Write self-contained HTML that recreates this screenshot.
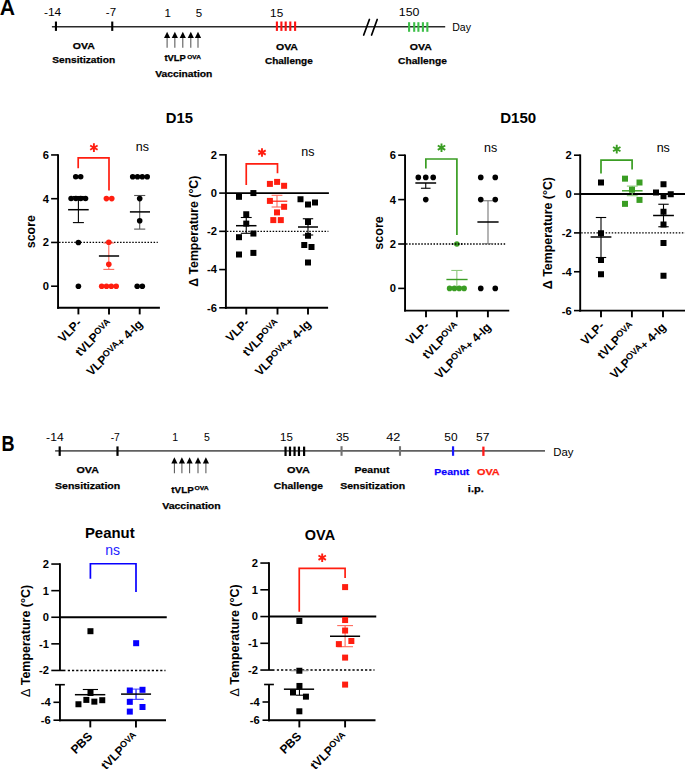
<!DOCTYPE html>
<html><head><meta charset="utf-8"><style>
html,body{margin:0;padding:0;background:#fff;width:685px;height:770px;overflow:hidden}
svg{display:block;font-family:"Liberation Sans", sans-serif}
</style></head><body>
<svg width="685" height="770" viewBox="0 0 685 770">
<rect width="685" height="770" fill="#fff"/>
<text id="big_a" x="-0.3" y="14.82" font-size="22.5" font-weight="bold" textLength="15.26" lengthAdjust="spacingAndGlyphs" fill="#000">A</text>
<line x1="51.9" y1="26.75" x2="445.2" y2="26.75" stroke="#2a2a2a" stroke-width="1.6" />
<line x1="55.95" y1="21.55" x2="55.95" y2="30.9" stroke="#000" stroke-width="2.1" />
<line x1="112.25" y1="21.55" x2="112.25" y2="30.9" stroke="#000" stroke-width="2.1" />
<text id="a_m14" x="43.91" y="16.25" font-size="11.5" textLength="17.32" lengthAdjust="spacingAndGlyphs" fill="#000">-14</text>
<text id="a_m7" x="105.8" y="16.43" font-size="11.5" textLength="10.27" lengthAdjust="spacingAndGlyphs" fill="#000">-7</text>
<text id="a_1" x="164.54" y="16.63" font-size="11.5" fill="#000">1</text>
<text id="a_5" x="195.83" y="16.98" font-size="11.5" fill="#000">5</text>
<text id="a_15" x="270.12" y="16.69" font-size="11.5" textLength="13.07" lengthAdjust="spacingAndGlyphs" fill="#000">15</text>
<text id="a_150" x="398.8" y="16.44" font-size="11.5" textLength="20.57" lengthAdjust="spacingAndGlyphs" fill="#000">150</text>
<text id="a_day" x="452.19" y="30.62" font-size="11.5" textLength="18.76" lengthAdjust="spacingAndGlyphs" fill="#000">Day</text>
<line x1="167.1" y1="37.5" x2="167.1" y2="47.8" stroke="#555" stroke-width="1.05"/>
<path d="M164.00 38.0 L167.1 31.8 L170.20 38.0 Z" fill="#000"/>
<line x1="174.85" y1="37.5" x2="174.85" y2="47.8" stroke="#555" stroke-width="1.05"/>
<path d="M171.75 38.0 L174.85 31.8 L177.95 38.0 Z" fill="#000"/>
<line x1="182.8" y1="37.5" x2="182.8" y2="47.8" stroke="#555" stroke-width="1.05"/>
<path d="M179.70 38.0 L182.8 31.8 L185.90 38.0 Z" fill="#000"/>
<line x1="190.8" y1="37.5" x2="190.8" y2="47.8" stroke="#555" stroke-width="1.05"/>
<path d="M187.70 38.0 L190.8 31.8 L193.90 38.0 Z" fill="#000"/>
<line x1="198.0" y1="37.5" x2="198.0" y2="47.8" stroke="#555" stroke-width="1.05"/>
<path d="M194.90 38.0 L198.0 31.8 L201.10 38.0 Z" fill="#000"/>
<line x1="276.9" y1="21.5" x2="276.9" y2="30.9" stroke="#ff1010" stroke-width="2.1" />
<line x1="281.4" y1="21.5" x2="281.4" y2="30.9" stroke="#ff1010" stroke-width="2.1" />
<line x1="285.7" y1="21.5" x2="285.7" y2="30.9" stroke="#ff1010" stroke-width="2.1" />
<line x1="290.3" y1="21.5" x2="290.3" y2="30.9" stroke="#ff1010" stroke-width="2.1" />
<line x1="295.1" y1="21.5" x2="295.1" y2="30.9" stroke="#ff1010" stroke-width="2.1" />
<line x1="409.1" y1="22.2" x2="409.1" y2="31.8" stroke="#3cbf48" stroke-width="2.1" />
<line x1="414.2" y1="22.2" x2="414.2" y2="31.8" stroke="#3cbf48" stroke-width="2.1" />
<line x1="418.4" y1="22.2" x2="418.4" y2="31.8" stroke="#3cbf48" stroke-width="2.1" />
<line x1="422.9" y1="22.2" x2="422.9" y2="31.8" stroke="#3cbf48" stroke-width="2.1" />
<line x1="427.35" y1="22.2" x2="427.35" y2="31.8" stroke="#3cbf48" stroke-width="2.1" />
<line x1="363.7" y1="35" x2="369.4" y2="19.5" stroke="#000" stroke-width="1.7" stroke-linecap="round"/>
<line x1="371.6" y1="35" x2="377.2" y2="19.5" stroke="#000" stroke-width="1.7" stroke-linecap="round"/>
<text id="a_ova1" x="72.79" y="49.24" font-size="9.8" font-weight="bold" textLength="22.02" lengthAdjust="spacingAndGlyphs" fill="#000" stroke="#000" stroke-width="0.25">OVA</text>
<text id="a_sens" x="52.33" y="63.39" font-size="9.8" font-weight="bold" textLength="62.8" lengthAdjust="spacingAndGlyphs" fill="#000" stroke="#000" stroke-width="0.25">Sensitization</text>
<text id="a_tvlp" x="164.43" y="61.41" font-size="9.8" font-weight="bold" textLength="21.44" lengthAdjust="spacingAndGlyphs" fill="#000" stroke="#000" stroke-width="0.25">tVLP</text>
<text id="a_tvlps" x="187.2" y="58.79" font-size="6.2" font-weight="bold" textLength="13.69" lengthAdjust="spacingAndGlyphs" fill="#000" stroke="#000" stroke-width="0.25">OVA</text>
<text id="a_vacc" x="155.22" y="76.51" font-size="9.8" font-weight="bold" textLength="57.13" lengthAdjust="spacingAndGlyphs" fill="#000" stroke="#000" stroke-width="0.25">Vaccination</text>
<text id="a_ova2" x="275.96" y="49.51" font-size="9.8" font-weight="bold" textLength="22.02" lengthAdjust="spacingAndGlyphs" fill="#000" stroke="#000" stroke-width="0.25">OVA</text>
<text id="a_chal1" x="264.97" y="63.62" font-size="9.8" font-weight="bold" textLength="47.72" lengthAdjust="spacingAndGlyphs" fill="#000" stroke="#000" stroke-width="0.25">Challenge</text>
<text id="a_ova3" x="409.75" y="49.53" font-size="9.8" font-weight="bold" textLength="21.99" lengthAdjust="spacingAndGlyphs" fill="#000" stroke="#000" stroke-width="0.25">OVA</text>
<text id="a_chal2" x="398.13" y="63.55" font-size="9.8" font-weight="bold" textLength="48.69" lengthAdjust="spacingAndGlyphs" fill="#000" stroke="#000" stroke-width="0.25">Challenge</text>
<text id="d15" x="165.89" y="122.9" font-size="14.5" font-weight="bold" textLength="27.2" lengthAdjust="spacingAndGlyphs" fill="#000">D15</text>
<text id="d150" x="500.15" y="122.9" font-size="14.5" font-weight="bold" textLength="36.0" lengthAdjust="spacingAndGlyphs" fill="#000">D150</text>
<line x1="58.05" y1="154.14999999999998" x2="58.05" y2="308.8" stroke="#000" stroke-width="1.9" />
<line x1="57.099999999999994" y1="307.8" x2="159.9" y2="307.8" stroke="#000" stroke-width="1.9" />
<line x1="51.099999999999994" y1="154.95" x2="58.05" y2="154.95" stroke="#000" stroke-width="1.6" />
<text x="48.9" y="158.85" font-size="11.2" font-weight="bold" text-anchor="end" fill="#000" >6</text>
<line x1="51.099999999999994" y1="198.7" x2="58.05" y2="198.7" stroke="#000" stroke-width="1.6" />
<text x="48.9" y="202.6" font-size="11.2" font-weight="bold" text-anchor="end" fill="#000" >4</text>
<line x1="51.099999999999994" y1="242.45" x2="58.05" y2="242.45" stroke="#000" stroke-width="1.6" />
<text x="48.9" y="246.35" font-size="11.2" font-weight="bold" text-anchor="end" fill="#000" >2</text>
<line x1="51.099999999999994" y1="286.2" x2="58.05" y2="286.2" stroke="#000" stroke-width="1.6" />
<text x="48.9" y="290.1" font-size="11.2" font-weight="bold" text-anchor="end" fill="#000" >0</text>
<line x1="78.4" y1="307.8" x2="78.4" y2="314.40000000000003" stroke="#000" stroke-width="1.9" />
<line x1="109.0" y1="307.8" x2="109.0" y2="314.40000000000003" stroke="#000" stroke-width="1.9" />
<line x1="139.7" y1="307.8" x2="139.7" y2="314.40000000000003" stroke="#000" stroke-width="1.9" />
<line x1="59.05" y1="242.45" x2="157.8" y2="242.45" stroke="#000" stroke-width="1.3" stroke-dasharray="1.5 1.55"/>
<text x="35.2" y="231.65" font-size="13" font-weight="bold" text-anchor="middle" textLength="33" lengthAdjust="spacingAndGlyphs" transform="rotate(-90 35.2 231.65)">score</text>
<line x1="78.4" y1="196.5125" x2="78.4" y2="222.6" stroke="#000" stroke-width="1.1" />
<line x1="72.9" y1="196.5125" x2="83.9" y2="196.5125" stroke="#000" stroke-width="1.1" />
<line x1="72.9" y1="222.6" x2="83.9" y2="222.6" stroke="#000" stroke-width="1.1" />
<circle cx="75.75" cy="176.75" r="2.8" fill="#000"/>
<circle cx="80.66" cy="176.75" r="2.8" fill="#000"/>
<circle cx="71.1" cy="198.5" r="2.8" fill="#000"/>
<circle cx="75.9" cy="198.5" r="2.8" fill="#000"/>
<circle cx="80.7" cy="198.5" r="2.8" fill="#000"/>
<circle cx="85.5" cy="198.5" r="2.8" fill="#000"/>
<line x1="68.10000000000001" y1="209.7" x2="88.7" y2="209.7" stroke="#000" stroke-width="1.5" />
<circle cx="78.4" cy="242.45" r="2.8" fill="#000"/>
<circle cx="78.4" cy="286.2" r="2.8" fill="#000"/>
<line x1="108.8" y1="243" x2="108.8" y2="269.4" stroke="#ff6a5c" stroke-width="1.1" />
<line x1="103.35" y1="243" x2="114.25" y2="243" stroke="#ff6a5c" stroke-width="1.1" />
<line x1="103.35" y1="269.4" x2="114.25" y2="269.4" stroke="#ff6a5c" stroke-width="1.1" />
<circle cx="106.4" cy="198.6" r="2.8" fill="#ff1e10"/>
<circle cx="111.75" cy="198.6" r="2.8" fill="#ff1e10"/>
<circle cx="108.8" cy="242.2" r="2.8" fill="#ff1e10"/>
<circle cx="108.8" cy="264.3" r="2.8" fill="#ff1e10"/>
<circle cx="101.7" cy="286.2" r="2.8" fill="#ff1e10"/>
<circle cx="106.5" cy="286.2" r="2.8" fill="#ff1e10"/>
<circle cx="111.3" cy="286.2" r="2.8" fill="#ff1e10"/>
<circle cx="116.2" cy="286.2" r="2.8" fill="#ff1e10"/>
<line x1="98.9" y1="256" x2="119.1" y2="256" stroke="#000" stroke-width="1.5" />
<line x1="139.7" y1="195.5" x2="139.7" y2="229.1" stroke="#555" stroke-width="1.1" />
<line x1="134.14999999999998" y1="195.5" x2="145.25" y2="195.5" stroke="#555" stroke-width="1.1" />
<line x1="134.14999999999998" y1="229.1" x2="145.25" y2="229.1" stroke="#555" stroke-width="1.1" />
<circle cx="132.7" cy="176.8" r="2.8" fill="#000"/>
<circle cx="137.5" cy="176.8" r="2.8" fill="#000"/>
<circle cx="142.3" cy="176.8" r="2.8" fill="#000"/>
<circle cx="147.2" cy="176.8" r="2.8" fill="#000"/>
<circle cx="139.7" cy="198.6" r="2.8" fill="#000"/>
<circle cx="139.7" cy="220.8" r="2.8" fill="#000"/>
<line x1="129.89999999999998" y1="211.9" x2="150.0" y2="211.9" stroke="#000" stroke-width="1.5" />
<circle cx="137.2" cy="286.2" r="2.8" fill="#000"/>
<circle cx="142.3" cy="286.2" r="2.8" fill="#000"/>
<path d="M78.2 168.3 V157.9 H109.0 V190.4" fill="none" stroke="#ff1e10" stroke-width="1.7"/>
<path d="M93.90 151.90L93.90 143.30M90.18 149.75L97.62 145.45M90.18 145.45L97.62 149.75" stroke="#ff1e10" stroke-width="1.9" fill="none"/>
<text id="ns1" x="135.77" y="151.37" font-size="12.5" fill="#000">ns</text>
<text id="xl1_0" x="82.34" y="323.71" font-size="12.0" font-weight="bold" text-anchor="end" transform="rotate(-45 82.34 323.71)" fill="#000">VLP-</text>
<text id="xl1_1" x="112.83" y="324.36" font-size="12.0" font-weight="bold" text-anchor="end" transform="rotate(-45 112.83 324.36)" fill="#000">tVLP<tspan font-size="9" dy="-3">OVA</tspan></text>
<text id="xl1_2" x="143.43" y="324.78" font-size="12.0" font-weight="bold" text-anchor="end" transform="rotate(-45 143.43 324.78)" fill="#000">VLP<tspan font-size="9" dy="-3">OVA</tspan><tspan dy="3" font-size="11">+</tspan><tspan> 4-Ig</tspan></text>
<line x1="225.9" y1="154.04999999999998" x2="225.9" y2="308.8" stroke="#000" stroke-width="1.9" />
<line x1="224.95000000000002" y1="307.8" x2="328.1" y2="307.8" stroke="#000" stroke-width="1.9" />
<line x1="219.20000000000002" y1="154.85999999999999" x2="225.9" y2="154.85999999999999" stroke="#000" stroke-width="1.6" />
<text x="217.0" y="158.76" font-size="11.2" font-weight="bold" text-anchor="end" fill="#000" >2</text>
<line x1="219.20000000000002" y1="193.1" x2="225.9" y2="193.1" stroke="#000" stroke-width="1.6" />
<text x="217.0" y="197.0" font-size="11.2" font-weight="bold" text-anchor="end" fill="#000" >0</text>
<line x1="219.20000000000002" y1="231.34" x2="225.9" y2="231.34" stroke="#000" stroke-width="1.6" />
<text x="217.0" y="235.24" font-size="11.2" font-weight="bold" text-anchor="end" fill="#000" >-2</text>
<line x1="219.20000000000002" y1="269.58" x2="225.9" y2="269.58" stroke="#000" stroke-width="1.6" />
<text x="217.0" y="273.48" font-size="11.2" font-weight="bold" text-anchor="end" fill="#000" >-4</text>
<line x1="219.20000000000002" y1="307.82" x2="225.9" y2="307.82" stroke="#000" stroke-width="1.6" />
<text x="217.0" y="311.72" font-size="11.2" font-weight="bold" text-anchor="end" fill="#000" >-6</text>
<line x1="246.25" y1="307.8" x2="246.25" y2="314.5" stroke="#000" stroke-width="1.9" />
<line x1="277.5" y1="307.8" x2="277.5" y2="314.5" stroke="#000" stroke-width="1.9" />
<line x1="308" y1="307.8" x2="308" y2="314.5" stroke="#000" stroke-width="1.9" />
<line x1="225.9" y1="193.1" x2="328.9" y2="193.1" stroke="#000" stroke-width="1.9" />
<line x1="226.9" y1="231.34" x2="328.4" y2="231.34" stroke="#000" stroke-width="1.3" stroke-dasharray="1.5 1.55"/>
<text x="198.4" y="231.2" font-size="13" font-weight="bold" text-anchor="middle" textLength="111" lengthAdjust="spacingAndGlyphs" transform="rotate(-90 198.4 231.2)">Δ Temperature (°C)</text>
<line x1="246.25" y1="217.5" x2="246.25" y2="233.3" stroke="#000" stroke-width="1.1" />
<line x1="240.8" y1="217.5" x2="251.7" y2="217.5" stroke="#000" stroke-width="1.1" />
<line x1="240.8" y1="233.3" x2="251.7" y2="233.3" stroke="#000" stroke-width="1.1" />
<rect x="236.00" y="193.80" width="6" height="6" fill="#000"/>
<rect x="250.40" y="190.05" width="6" height="6" fill="#000"/>
<rect x="243.25" y="211.25" width="6" height="6" fill="#000"/>
<rect x="243.25" y="220.60" width="6" height="6" fill="#000"/>
<rect x="236.00" y="234.20" width="6" height="6" fill="#000"/>
<rect x="250.40" y="230.55" width="6" height="6" fill="#000"/>
<rect x="236.00" y="251.50" width="6" height="6" fill="#000"/>
<rect x="250.40" y="249.90" width="6" height="6" fill="#000"/>
<line x1="236.0" y1="225.7" x2="256.5" y2="225.7" stroke="#000" stroke-width="1.5" />
<line x1="277" y1="195.3" x2="277" y2="207" stroke="#ff6a5c" stroke-width="1.1" />
<line x1="271.6" y1="195.3" x2="282.4" y2="195.3" stroke="#ff6a5c" stroke-width="1.1" />
<line x1="271.6" y1="207" x2="282.4" y2="207" stroke="#ff6a5c" stroke-width="1.1" />
<rect x="266.90" y="180.90" width="6" height="6" fill="#ff1e10"/>
<rect x="274.10" y="178.90" width="6" height="6" fill="#ff1e10"/>
<rect x="281.10" y="182.80" width="6" height="6" fill="#ff1e10"/>
<rect x="266.90" y="197.90" width="6" height="6" fill="#ff1e10"/>
<rect x="281.10" y="203.80" width="6" height="6" fill="#ff1e10"/>
<rect x="274.00" y="209.40" width="6" height="6" fill="#ff1e10"/>
<rect x="270.30" y="217.10" width="6" height="6" fill="#ff1e10"/>
<rect x="277.80" y="217.10" width="6" height="6" fill="#ff1e10"/>
<line x1="268.3" y1="201.2" x2="287.3" y2="201.2" stroke="#ff1e10" stroke-width="1.2" />
<line x1="308" y1="218.75" x2="308" y2="235" stroke="#000" stroke-width="1.1" />
<line x1="302.8" y1="218.75" x2="313.2" y2="218.75" stroke="#000" stroke-width="1.1" />
<line x1="302.8" y1="235" x2="313.2" y2="235" stroke="#000" stroke-width="1.1" />
<rect x="297.50" y="196.25" width="6" height="6" fill="#000"/>
<rect x="305.00" y="201.50" width="6" height="6" fill="#000"/>
<rect x="312.00" y="199.50" width="6" height="6" fill="#000"/>
<rect x="305.00" y="219.00" width="6" height="6" fill="#000"/>
<rect x="305.00" y="232.75" width="6" height="6" fill="#000"/>
<rect x="301.25" y="242.00" width="6" height="6" fill="#000"/>
<rect x="308.50" y="244.00" width="6" height="6" fill="#000"/>
<rect x="305.00" y="259.50" width="6" height="6" fill="#000"/>
<line x1="298" y1="227" x2="318" y2="227" stroke="#000" stroke-width="1.5" />
<path d="M246.25 185 V163.8 H277.5 V173.25" fill="none" stroke="#ff1e10" stroke-width="1.7"/>
<path d="M262.00 156.80L262.00 148.20M258.28 154.65L265.72 150.35M258.28 150.35L265.72 154.65" stroke="#ff1e10" stroke-width="1.9" fill="none"/>
<text id="ns2" x="301.25" y="155.6" font-size="12.5" fill="#000">ns</text>
<text id="xl2_0" x="250.14" y="323.31" font-size="12.0" font-weight="bold" text-anchor="end" transform="rotate(-45 250.14 323.31)" fill="#000">VLP-</text>
<text id="xl2_1" x="280.14" y="324.25" font-size="12.0" font-weight="bold" text-anchor="end" transform="rotate(-45 280.14 324.25)" fill="#000">tVLP<tspan font-size="9" dy="-3">OVA</tspan></text>
<text id="xl2_2" x="311.78" y="324.78" font-size="12.0" font-weight="bold" text-anchor="end" transform="rotate(-45 311.78 324.78)" fill="#000">VLP<tspan font-size="9" dy="-3">OVA</tspan><tspan dy="3" font-size="11">+</tspan><tspan> 4-Ig</tspan></text>
<line x1="405.05" y1="154.39999999999998" x2="405.05" y2="311.6" stroke="#000" stroke-width="1.9" />
<line x1="404.1" y1="310.6" x2="509.25" y2="310.6" stroke="#000" stroke-width="1.9" />
<line x1="398.2" y1="155.2" x2="405.05" y2="155.2" stroke="#000" stroke-width="1.6" />
<text x="396.0" y="159.1" font-size="11.2" font-weight="bold" text-anchor="end" fill="#000" >6</text>
<line x1="398.2" y1="199.59999999999997" x2="405.05" y2="199.59999999999997" stroke="#000" stroke-width="1.6" />
<text x="396.0" y="203.5" font-size="11.2" font-weight="bold" text-anchor="end" fill="#000" >4</text>
<line x1="398.2" y1="243.99999999999997" x2="405.05" y2="243.99999999999997" stroke="#000" stroke-width="1.6" />
<text x="396.0" y="247.9" font-size="11.2" font-weight="bold" text-anchor="end" fill="#000" >2</text>
<line x1="398.2" y1="288.4" x2="405.05" y2="288.4" stroke="#000" stroke-width="1.6" />
<text x="396.0" y="292.3" font-size="11.2" font-weight="bold" text-anchor="end" fill="#000" >0</text>
<line x1="426" y1="310.6" x2="426" y2="317.3" stroke="#000" stroke-width="1.9" />
<line x1="456.9" y1="310.6" x2="456.9" y2="317.3" stroke="#000" stroke-width="1.9" />
<line x1="487.9" y1="310.6" x2="487.9" y2="317.3" stroke="#000" stroke-width="1.9" />
<line x1="406.05" y1="243.99999999999997" x2="506.25" y2="243.99999999999997" stroke="#000" stroke-width="1.3" stroke-dasharray="1.5 1.55"/>
<text x="382.6" y="233.0" font-size="13" font-weight="bold" text-anchor="middle" textLength="33.6" lengthAdjust="spacingAndGlyphs" transform="rotate(-90 382.6 233.0)">score</text>
<line x1="425.75" y1="183" x2="425.75" y2="188.25" stroke="#000" stroke-width="1.1" />
<line x1="420.95" y1="188.25" x2="430.55" y2="188.25" stroke="#000" stroke-width="1.1" />
<circle cx="418.3" cy="177.39999999999998" r="2.8" fill="#000"/>
<circle cx="425.75" cy="177.39999999999998" r="2.8" fill="#000"/>
<circle cx="433.2" cy="177.39999999999998" r="2.8" fill="#000"/>
<circle cx="425.75" cy="199.59999999999997" r="2.8" fill="#000"/>
<line x1="415.35" y1="183" x2="436.15" y2="183" stroke="#000" stroke-width="1.5" />
<line x1="456.85" y1="270.45" x2="456.85" y2="287" stroke="#8cc87c" stroke-width="1.1" />
<line x1="451.3" y1="270.45" x2="462.40000000000003" y2="270.45" stroke="#8cc87c" stroke-width="1.1" />
<line x1="451.3" y1="287" x2="462.40000000000003" y2="287" stroke="#8cc87c" stroke-width="1.1" />
<circle cx="456.85" cy="243.99999999999997" r="2.8" fill="#3a9d23"/>
<line x1="450.9" y1="243.99999999999997" x2="463" y2="243.99999999999997" stroke="#000" stroke-width="1.3" stroke-dasharray="1.5 1.55" stroke-dashoffset="2.15"/>
<circle cx="449.6" cy="288.4" r="2.8" fill="#3a9d23"/>
<circle cx="454.4" cy="288.4" r="2.8" fill="#3a9d23"/>
<circle cx="459.2" cy="288.4" r="2.8" fill="#3a9d23"/>
<circle cx="464.1" cy="288.4" r="2.8" fill="#3a9d23"/>
<line x1="446.4" y1="279.5" x2="467.6" y2="279.5" stroke="#3a9d23" stroke-width="1.4" />
<line x1="488" y1="200.75" x2="488" y2="243.75" stroke="#777" stroke-width="1.1" />
<line x1="482.6" y1="200.75" x2="493.4" y2="200.75" stroke="#777" stroke-width="1.1" />
<line x1="482.6" y1="243.75" x2="493.4" y2="243.75" stroke="#777" stroke-width="1.1" />
<line x1="477.4" y1="222" x2="498.6" y2="222" stroke="#000" stroke-width="1.5" />
<circle cx="480.75" cy="177.39999999999998" r="2.8" fill="#000"/>
<circle cx="480.75" cy="199.59999999999997" r="2.8" fill="#000"/>
<circle cx="480.75" cy="288.4" r="2.8" fill="#000"/>
<circle cx="495.25" cy="177.39999999999998" r="2.8" fill="#000"/>
<circle cx="495.25" cy="199.59999999999997" r="2.8" fill="#000"/>
<circle cx="495.25" cy="288.4" r="2.8" fill="#000"/>
<path d="M425.85 168.5 V159.0 H456.9 V235" fill="none" stroke="#3a9d23" stroke-width="1.7"/>
<path d="M441.50 152.00L441.50 143.40M437.78 149.85L445.22 145.55M437.78 145.55L445.22 149.85" stroke="#3a9d23" stroke-width="1.9" fill="none"/>
<text id="ns3" x="484.11" y="151.64" font-size="12.5" fill="#000">ns</text>
<text id="xl3_0" x="430.06" y="326.39" font-size="12.0" font-weight="bold" text-anchor="end" transform="rotate(-45 430.06 326.39)" fill="#000">VLP-</text>
<text id="xl3_1" x="460.02" y="327.14" font-size="12.0" font-weight="bold" text-anchor="end" transform="rotate(-45 460.02 327.14)" fill="#000">tVLP<tspan font-size="9" dy="-3">OVA</tspan></text>
<text id="xl3_2" x="491.68" y="327.71" font-size="12.0" font-weight="bold" text-anchor="end" transform="rotate(-45 491.68 327.71)" fill="#000">VLP<tspan font-size="9" dy="-3">OVA</tspan><tspan dy="3" font-size="11">+</tspan><tspan> 4-Ig</tspan></text>
<line x1="580.2" y1="154.39999999999998" x2="580.2" y2="311.6" stroke="#000" stroke-width="1.9" />
<line x1="579.25" y1="310.6" x2="685" y2="310.6" stroke="#000" stroke-width="1.9" />
<line x1="574.0" y1="155.20000000000002" x2="580.2" y2="155.20000000000002" stroke="#000" stroke-width="1.6" />
<text x="571.8" y="159.1" font-size="11.2" font-weight="bold" text-anchor="end" fill="#000" >2</text>
<line x1="574.0" y1="194.05" x2="580.2" y2="194.05" stroke="#000" stroke-width="1.6" />
<text x="571.8" y="197.95" font-size="11.2" font-weight="bold" text-anchor="end" fill="#000" >0</text>
<line x1="574.0" y1="232.9" x2="580.2" y2="232.9" stroke="#000" stroke-width="1.6" />
<text x="571.8" y="236.8" font-size="11.2" font-weight="bold" text-anchor="end" fill="#000" >-2</text>
<line x1="574.0" y1="271.75" x2="580.2" y2="271.75" stroke="#000" stroke-width="1.6" />
<text x="571.8" y="275.65" font-size="11.2" font-weight="bold" text-anchor="end" fill="#000" >-4</text>
<line x1="574.0" y1="310.6" x2="580.2" y2="310.6" stroke="#000" stroke-width="1.6" />
<text x="571.8" y="314.5" font-size="11.2" font-weight="bold" text-anchor="end" fill="#000" >-6</text>
<line x1="601" y1="310.6" x2="601" y2="317.3" stroke="#000" stroke-width="1.9" />
<line x1="631.9" y1="310.6" x2="631.9" y2="317.3" stroke="#000" stroke-width="1.9" />
<line x1="663" y1="310.6" x2="663" y2="317.3" stroke="#000" stroke-width="1.9" />
<line x1="580.2" y1="194.05" x2="685" y2="194.05" stroke="#000" stroke-width="1.9" />
<line x1="581.2" y1="232.9" x2="685" y2="232.9" stroke="#000" stroke-width="1.3" stroke-dasharray="1.5 1.55"/>
<text x="552.3" y="233.1" font-size="13" font-weight="bold" text-anchor="middle" textLength="112.2" lengthAdjust="spacingAndGlyphs" transform="rotate(-90 552.3 233.1)">Δ Temperature (°C)</text>
<line x1="601" y1="217.5" x2="601" y2="257.5" stroke="#000" stroke-width="1.1" />
<line x1="595.8" y1="217.5" x2="606.2" y2="217.5" stroke="#000" stroke-width="1.1" />
<line x1="595.8" y1="257.5" x2="606.2" y2="257.5" stroke="#000" stroke-width="1.1" />
<rect x="598.00" y="179.50" width="6" height="6" fill="#000"/>
<rect x="598.00" y="230.25" width="6" height="6" fill="#000"/>
<rect x="598.00" y="257.00" width="6" height="6" fill="#000"/>
<rect x="598.00" y="271.25" width="6" height="6" fill="#000"/>
<line x1="590.6" y1="237" x2="611.4" y2="237" stroke="#000" stroke-width="1.5" />
<line x1="632.25" y1="186.1" x2="632.25" y2="195.7" stroke="#8cc87c" stroke-width="1.1" />
<line x1="626.85" y1="186.1" x2="637.65" y2="186.1" stroke="#8cc87c" stroke-width="1.1" />
<line x1="626.85" y1="195.7" x2="637.65" y2="195.7" stroke="#8cc87c" stroke-width="1.1" />
<rect x="622.00" y="175.65" width="6" height="6" fill="#3a9d23"/>
<rect x="636.50" y="179.50" width="6" height="6" fill="#3a9d23"/>
<rect x="629.00" y="186.70" width="6" height="6" fill="#3a9d23"/>
<rect x="636.50" y="196.90" width="6" height="6" fill="#3a9d23"/>
<rect x="622.00" y="200.85" width="6" height="6" fill="#3a9d23"/>
<line x1="622.0" y1="190.8" x2="642.5999999999999" y2="190.8" stroke="#3a9d23" stroke-width="1.4" />
<line x1="663.5" y1="204.25" x2="663.5" y2="226.75" stroke="#000" stroke-width="1.1" />
<line x1="658.3" y1="204.25" x2="668.7" y2="204.25" stroke="#000" stroke-width="1.1" />
<line x1="658.3" y1="226.75" x2="668.7" y2="226.75" stroke="#000" stroke-width="1.1" />
<rect x="660.50" y="181.25" width="6" height="6" fill="#000"/>
<rect x="653.00" y="189.50" width="6" height="6" fill="#000"/>
<rect x="660.50" y="193.25" width="6" height="6" fill="#000"/>
<rect x="667.75" y="191.25" width="6" height="6" fill="#000"/>
<rect x="660.50" y="208.75" width="6" height="6" fill="#000"/>
<rect x="660.50" y="221.50" width="6" height="6" fill="#000"/>
<rect x="660.50" y="240.00" width="6" height="6" fill="#000"/>
<rect x="660.50" y="272.75" width="6" height="6" fill="#000"/>
<line x1="653.1" y1="215.5" x2="673.9" y2="215.5" stroke="#000" stroke-width="1.5" />
<path d="M601 173.6 V160.05 H632.1 V169.6" fill="none" stroke="#3a9d23" stroke-width="1.7"/>
<path d="M616.75 153.40L616.75 144.80M613.03 151.25L620.47 146.95M613.03 146.95L620.47 151.25" stroke="#3a9d23" stroke-width="1.9" fill="none"/>
<text id="ns4" x="656.66" y="151.69" font-size="12.5" fill="#000">ns</text>
<text id="xl4_0" x="605.06" y="326.39" font-size="12.0" font-weight="bold" text-anchor="end" transform="rotate(-45 605.06 326.39)" fill="#000">VLP-</text>
<text id="xl4_1" x="635.02" y="327.14" font-size="12.0" font-weight="bold" text-anchor="end" transform="rotate(-45 635.02 327.14)" fill="#000">tVLP<tspan font-size="9" dy="-3">OVA</tspan></text>
<text id="xl4_2" x="666.73" y="327.71" font-size="12.0" font-weight="bold" text-anchor="end" transform="rotate(-45 666.73 327.71)" fill="#000">VLP<tspan font-size="9" dy="-3">OVA</tspan><tspan dy="3" font-size="11">+</tspan><tspan> 4-Ig</tspan></text>
<text id="big_b" x="1.47" y="450.5" font-size="22.2" font-weight="bold" textLength="13.07" lengthAdjust="spacingAndGlyphs" fill="#000">B</text>
<line x1="55.1" y1="450.8" x2="545" y2="450.8" stroke="#606060" stroke-width="1.7" />
<line x1="59.7" y1="446.4" x2="59.7" y2="455.9" stroke="#000" stroke-width="2.2" />
<line x1="117.5" y1="446.4" x2="117.5" y2="455.9" stroke="#000" stroke-width="2.2" />
<text id="b_m14" x="46.14" y="441.43" font-size="10.5" textLength="17.5" lengthAdjust="spacingAndGlyphs" fill="#000">-14</text>
<text id="b_m7" x="110.7" y="441.47" font-size="10.5" textLength="9.14" lengthAdjust="spacingAndGlyphs" fill="#000">-7</text>
<text id="b_1" x="172.29" y="440.51" font-size="10.5" fill="#000">1</text>
<text id="b_5" x="203.9" y="441.17" font-size="10.5" fill="#000">5</text>
<text id="b_15" x="280.13" y="440.76" font-size="10.5" textLength="12.81" lengthAdjust="spacingAndGlyphs" fill="#000">15</text>
<text id="b_35" x="336.01" y="440.86" font-size="10.5" textLength="13.19" lengthAdjust="spacingAndGlyphs" fill="#000">35</text>
<text id="b_42" x="386.29" y="440.89" font-size="10.5" textLength="14.14" lengthAdjust="spacingAndGlyphs" fill="#000">42</text>
<text id="b_50" x="444.37" y="441.2" font-size="10.5" textLength="13.26" lengthAdjust="spacingAndGlyphs" fill="#000">50</text>
<text id="b_57" x="475.99" y="441.09" font-size="10.5" textLength="13.44" lengthAdjust="spacingAndGlyphs" fill="#000">57</text>
<text id="b_day" x="553.32" y="455.53" font-size="11.0" textLength="20.19" lengthAdjust="spacingAndGlyphs" fill="#000">Day</text>
<line x1="174.4" y1="463.0" x2="174.4" y2="473.2" stroke="#555" stroke-width="1.05"/>
<path d="M171.30 463.5 L174.4 457.15 L177.50 463.5 Z" fill="#000"/>
<line x1="181.9" y1="463.0" x2="181.9" y2="473.2" stroke="#555" stroke-width="1.05"/>
<path d="M178.80 463.5 L181.9 457.15 L185.00 463.5 Z" fill="#000"/>
<line x1="189.6" y1="463.0" x2="189.6" y2="473.2" stroke="#555" stroke-width="1.05"/>
<path d="M186.50 463.5 L189.6 457.15 L192.70 463.5 Z" fill="#000"/>
<line x1="198.0" y1="463.0" x2="198.0" y2="473.2" stroke="#555" stroke-width="1.05"/>
<path d="M194.90 463.5 L198.0 457.15 L201.10 463.5 Z" fill="#000"/>
<line x1="205.9" y1="463.0" x2="205.9" y2="473.2" stroke="#555" stroke-width="1.05"/>
<path d="M202.80 463.5 L205.9 457.15 L209.00 463.5 Z" fill="#000"/>
<line x1="285.55" y1="446.6" x2="285.55" y2="456" stroke="#000" stroke-width="2.2" />
<line x1="290" y1="446.6" x2="290" y2="456" stroke="#000" stroke-width="2.2" />
<line x1="294.55" y1="446.6" x2="294.55" y2="456" stroke="#000" stroke-width="2.2" />
<line x1="298.95" y1="446.6" x2="298.95" y2="456" stroke="#000" stroke-width="2.2" />
<line x1="304.1" y1="446.6" x2="304.1" y2="456" stroke="#000" stroke-width="2.2" />
<line x1="341.55" y1="446.2" x2="341.55" y2="455.8" stroke="#727272" stroke-width="2.1" />
<line x1="400" y1="446.2" x2="400" y2="455.8" stroke="#727272" stroke-width="2.1" />
<line x1="453.05" y1="446.3" x2="453.05" y2="455.8" stroke="#1a1aff" stroke-width="2.2" />
<line x1="483.4" y1="446.6" x2="483.4" y2="455.9" stroke="#ff1a1a" stroke-width="2.3" />
<text id="b_ova1" x="76.55" y="473.11" font-size="9.8" font-weight="bold" textLength="22.4" lengthAdjust="spacingAndGlyphs" fill="#000" stroke="#000" stroke-width="0.25">OVA</text>
<text id="b_sens1" x="54.95" y="488.67" font-size="9.8" font-weight="bold" textLength="65.34" lengthAdjust="spacingAndGlyphs" fill="#000" stroke="#000" stroke-width="0.25">Sensitization</text>
<text id="b_tvlp" x="171.33" y="492.91" font-size="9.8" font-weight="bold" textLength="22.38" lengthAdjust="spacingAndGlyphs" fill="#000" stroke="#000" stroke-width="0.25">tVLP</text>
<text id="b_tvlps" x="194.49" y="490.17" font-size="6.2" font-weight="bold" textLength="14.28" lengthAdjust="spacingAndGlyphs" fill="#000" stroke="#000" stroke-width="0.25">OVA</text>
<text id="b_vacc" x="162.21" y="508.59" font-size="9.8" font-weight="bold" textLength="58.54" lengthAdjust="spacingAndGlyphs" fill="#000" stroke="#000" stroke-width="0.25">Vaccination</text>
<text id="b_ova2" x="287.09" y="473.28" font-size="9.8" font-weight="bold" textLength="22.81" lengthAdjust="spacingAndGlyphs" fill="#000" stroke="#000" stroke-width="0.25">OVA</text>
<text id="b_chal" x="273.84" y="488.85" font-size="9.8" font-weight="bold" textLength="49.24" lengthAdjust="spacingAndGlyphs" fill="#000" stroke="#000" stroke-width="0.25">Challenge</text>
<text id="b_pean1" x="354.64" y="473.35" font-size="9.8" font-weight="bold" textLength="34.76" lengthAdjust="spacingAndGlyphs" fill="#000" stroke="#000" stroke-width="0.25">Peanut</text>
<text id="b_sens2" x="340.19" y="488.5" font-size="9.8" font-weight="bold" textLength="65.01" lengthAdjust="spacingAndGlyphs" fill="#000" stroke="#000" stroke-width="0.25">Sensitization</text>
<text id="b_pean2" x="434.37" y="474.83" font-size="9.8" font-weight="bold" textLength="35.0" lengthAdjust="spacingAndGlyphs" fill="#0800ff" stroke="#0800ff" stroke-width="0.25">Peanut</text>
<text id="b_ova3" x="476.92" y="475.34" font-size="9.8" font-weight="bold" textLength="22.82" lengthAdjust="spacingAndGlyphs" fill="#ff1e10" stroke="#ff1e10" stroke-width="0.25">OVA</text>
<text id="b_ip" x="467.86" y="492.15" font-size="9.8" font-weight="bold" textLength="15.87" lengthAdjust="spacingAndGlyphs" fill="#000" stroke="#000" stroke-width="0.25">i.p.</text>
<text id="t_pean" x="84.93" y="538.41" font-size="15.0" font-weight="bold" textLength="49.7" lengthAdjust="spacingAndGlyphs" fill="#000">Peanut</text>
<line x1="59.95" y1="563.25" x2="59.95" y2="670.45" stroke="#000" stroke-width="1.9" />
<line x1="51.300000000000004" y1="564.05" x2="59.95" y2="564.05" stroke="#000" stroke-width="1.6" />
<text x="48.9" y="567.95" font-size="11.2" font-weight="bold" text-anchor="end" fill="#000" >2</text>
<line x1="51.300000000000004" y1="590.65" x2="59.95" y2="590.65" stroke="#000" stroke-width="1.6" />
<text x="48.9" y="594.55" font-size="11.2" font-weight="bold" text-anchor="end" fill="#000" >1</text>
<line x1="51.300000000000004" y1="617.25" x2="59.95" y2="617.25" stroke="#000" stroke-width="1.6" />
<text x="48.9" y="621.15" font-size="11.2" font-weight="bold" text-anchor="end" fill="#000" >0</text>
<line x1="51.300000000000004" y1="643.85" x2="59.95" y2="643.85" stroke="#000" stroke-width="1.6" />
<text x="48.9" y="647.75" font-size="11.2" font-weight="bold" text-anchor="end" fill="#000" >-1</text>
<line x1="51.300000000000004" y1="670.45" x2="65.45" y2="670.45" stroke="#000" stroke-width="1.6" />
<text x="48.9" y="674.35" font-size="11.2" font-weight="bold" text-anchor="end" fill="#000" >-2</text>
<line x1="59.95" y1="617.25" x2="166.75" y2="617.25" stroke="#000" stroke-width="1.9" />
<line x1="67.8" y1="670.45" x2="165.5" y2="670.45" stroke="#000" stroke-width="1.4" stroke-dasharray="2.2 2.0"/>
<line x1="55.050000000000004" y1="684.7" x2="64.85000000000001" y2="684.7" stroke="#000" stroke-width="1.6" />
<line x1="59.95" y1="684.7" x2="59.95" y2="721.2" stroke="#000" stroke-width="1.9" />
<line x1="53.45" y1="702.3" x2="59.95" y2="702.3" stroke="#000" stroke-width="1.6" />
<text x="50.65" y="706.2" font-size="11.2" font-weight="bold" text-anchor="end" fill="#000" >-4</text>
<line x1="53.45" y1="720.2" x2="59.95" y2="720.2" stroke="#000" stroke-width="1.6" />
<text x="50.65" y="724.1" font-size="11.2" font-weight="bold" text-anchor="end" fill="#000" >-6</text>
<line x1="59.0" y1="720.2" x2="166" y2="720.2" stroke="#000" stroke-width="1.9" />
<line x1="90.3" y1="720.2" x2="90.3" y2="727.4000000000001" stroke="#000" stroke-width="1.9" />
<line x1="135.95" y1="720.2" x2="135.95" y2="727.4000000000001" stroke="#000" stroke-width="1.9" />
<text x="30.0" y="641" font-size="13" font-weight="bold" text-anchor="middle" textLength="112.2" lengthAdjust="spacingAndGlyphs" transform="rotate(-90 30.0 641)"><tspan font-weight="normal">Δ</tspan> Temperature (°C)</text>
<path d="M90.4 578.75 V563.75 H136 V592" fill="none" stroke="#0800ff" stroke-width="1.7"/>
<text id="ns5" x="105.24" y="555.45" font-size="14.0" fill="#2323ff">ns</text>
<line x1="90.4" y1="689.5" x2="90.4" y2="694.7" stroke="#000" stroke-width="1.1" />
<line x1="82.80000000000001" y1="689.5" x2="98.0" y2="689.5" stroke="#000" stroke-width="1.1" />
<rect x="87.45" y="628.20" width="6" height="6" fill="#000"/>
<rect x="87.50" y="690.00" width="6" height="6" fill="#000"/>
<rect x="83.35" y="696.90" width="6" height="6" fill="#000"/>
<rect x="91.35" y="698.65" width="6" height="6" fill="#000"/>
<rect x="99.25" y="697.20" width="6" height="6" fill="#000"/>
<rect x="75.45" y="701.25" width="6" height="6" fill="#000"/>
<line x1="74.89999999999999" y1="694.7" x2="105.3" y2="694.7" stroke="#000" stroke-width="1.5" />
<line x1="136.05" y1="689.1" x2="136.05" y2="699.4" stroke="#4a4aff" stroke-width="1.1" />
<line x1="128.45000000000002" y1="689.1" x2="143.65" y2="689.1" stroke="#4a4aff" stroke-width="1.1" />
<line x1="128.45000000000002" y1="699.4" x2="143.65" y2="699.4" stroke="#4a4aff" stroke-width="1.1" />
<rect x="133.15" y="640.20" width="6" height="6" fill="#0800ff"/>
<rect x="126.80" y="687.50" width="6" height="6" fill="#0800ff"/>
<rect x="139.50" y="686.80" width="6" height="6" fill="#0800ff"/>
<rect x="126.80" y="698.85" width="6" height="6" fill="#0800ff"/>
<rect x="139.50" y="704.00" width="6" height="6" fill="#0800ff"/>
<rect x="126.80" y="708.60" width="6" height="6" fill="#0800ff"/>
<line x1="136.05" y1="689.1" x2="136.05" y2="699.4" stroke="#4a4aff" stroke-width="1.1" />
<line x1="136.05" y1="699.4" x2="143.65" y2="699.4" stroke="#4a4aff" stroke-width="1.1" />
<line x1="121.05000000000001" y1="694.1" x2="151.05" y2="694.1" stroke="#000" stroke-width="1.5" />
<text id="xl5_0" x="93.14" y="737.08" font-size="12.0" font-weight="bold" text-anchor="end" transform="rotate(-45 93.14 737.08)" fill="#000">PBS</text>
<text id="xl5_1" x="138.75" y="737.6" font-size="12.0" font-weight="bold" text-anchor="end" transform="rotate(-45 138.75 737.6)" fill="#000">tVLP<tspan font-size="9" dy="-3">OVA</tspan></text>
<text id="t_ova" x="304.82" y="540.0" font-size="15.0" font-weight="bold" textLength="30.29" lengthAdjust="spacingAndGlyphs" fill="#000">OVA</text>
<line x1="269.0" y1="562.25" x2="269.0" y2="670.05" stroke="#000" stroke-width="1.9" />
<line x1="260.35" y1="563.05" x2="269.0" y2="563.05" stroke="#000" stroke-width="1.6" />
<text x="257.95" y="566.95" font-size="11.2" font-weight="bold" text-anchor="end" fill="#000" >2</text>
<line x1="260.35" y1="589.8" x2="269.0" y2="589.8" stroke="#000" stroke-width="1.6" />
<text x="257.95" y="593.7" font-size="11.2" font-weight="bold" text-anchor="end" fill="#000" >1</text>
<line x1="260.35" y1="616.55" x2="269.0" y2="616.55" stroke="#000" stroke-width="1.6" />
<text x="257.95" y="620.45" font-size="11.2" font-weight="bold" text-anchor="end" fill="#000" >0</text>
<line x1="260.35" y1="643.3" x2="269.0" y2="643.3" stroke="#000" stroke-width="1.6" />
<text x="257.95" y="647.2" font-size="11.2" font-weight="bold" text-anchor="end" fill="#000" >-1</text>
<line x1="260.35" y1="670.05" x2="274.5" y2="670.05" stroke="#000" stroke-width="1.6" />
<text x="257.95" y="673.95" font-size="11.2" font-weight="bold" text-anchor="end" fill="#000" >-2</text>
<line x1="269.0" y1="616.55" x2="376.25" y2="616.55" stroke="#000" stroke-width="1.9" />
<line x1="276.85" y1="670.05" x2="374.5" y2="670.05" stroke="#000" stroke-width="1.4" stroke-dasharray="2.2 2.0"/>
<line x1="264.1" y1="684.5" x2="273.9" y2="684.5" stroke="#000" stroke-width="1.6" />
<line x1="269.0" y1="684.5" x2="269.0" y2="721.2" stroke="#000" stroke-width="1.9" />
<line x1="262.5" y1="702.0" x2="269.0" y2="702.0" stroke="#000" stroke-width="1.6" />
<text x="259.7" y="705.9" font-size="11.2" font-weight="bold" text-anchor="end" fill="#000" >-4</text>
<line x1="262.5" y1="720.2" x2="269.0" y2="720.2" stroke="#000" stroke-width="1.6" />
<text x="259.7" y="724.1" font-size="11.2" font-weight="bold" text-anchor="end" fill="#000" >-6</text>
<line x1="268.05" y1="720.2" x2="375.5" y2="720.2" stroke="#000" stroke-width="1.9" />
<line x1="299.35" y1="720.2" x2="299.35" y2="727.4000000000001" stroke="#000" stroke-width="1.9" />
<line x1="345.1" y1="720.2" x2="345.1" y2="727.4000000000001" stroke="#000" stroke-width="1.9" />
<text x="238.6" y="640.5" font-size="13" font-weight="bold" text-anchor="middle" textLength="112.2" lengthAdjust="spacingAndGlyphs" transform="rotate(-90 238.6 640.5)"><tspan font-weight="normal">Δ</tspan> Temperature (°C)</text>
<path d="M299.25 611.8 V568.4 H345.1 V578.1" fill="none" stroke="#ff1e10" stroke-width="1.7"/>
<path d="M322.20 562.00L322.20 553.40M318.48 559.85L325.92 555.55M318.48 555.55L325.92 559.85" stroke="#ff1e10" stroke-width="1.9" fill="none"/>
<line x1="290.5" y1="670.75" x2="308.2" y2="670.75" stroke="#999" stroke-width="1.1" />
<rect x="296.35" y="617.95" width="6" height="6" fill="#000"/>
<rect x="296.35" y="667.75" width="6" height="6" fill="#000"/>
<rect x="296.45" y="682.95" width="6" height="6" fill="#000"/>
<rect x="290.00" y="689.50" width="6" height="6" fill="#000"/>
<rect x="302.95" y="693.65" width="6" height="6" fill="#000"/>
<rect x="296.35" y="708.30" width="6" height="6" fill="#000"/>
<line x1="299.45" y1="689.2" x2="299.45" y2="695.2" stroke="#000" stroke-width="1.1" />
<line x1="296" y1="695.2" x2="303" y2="695.2" stroke="#000" stroke-width="1.1" />
<line x1="283.9" y1="689.2" x2="314.1" y2="689.2" stroke="#000" stroke-width="1.5" />
<line x1="345.1" y1="625.6" x2="345.1" y2="646.7" stroke="#ff6a5c" stroke-width="1.1" />
<line x1="337.20000000000005" y1="625.6" x2="353.0" y2="625.6" stroke="#ff6a5c" stroke-width="1.1" />
<line x1="337.20000000000005" y1="646.7" x2="353.0" y2="646.7" stroke="#ff6a5c" stroke-width="1.1" />
<rect x="342.10" y="584.10" width="6" height="6" fill="#ff1e10"/>
<rect x="342.10" y="617.05" width="6" height="6" fill="#ff1e10"/>
<rect x="342.10" y="627.55" width="6" height="6" fill="#ff1e10"/>
<rect x="348.35" y="638.00" width="6" height="6" fill="#ff1e10"/>
<rect x="335.85" y="641.10" width="6" height="6" fill="#ff1e10"/>
<rect x="342.10" y="654.60" width="6" height="6" fill="#ff1e10"/>
<rect x="342.10" y="681.60" width="6" height="6" fill="#ff1e10"/>
<line x1="330.0" y1="636.25" x2="360.1" y2="636.25" stroke="#000" stroke-width="1.5" />
<text id="xl6_0" x="302.17" y="737.09" font-size="12.0" font-weight="bold" text-anchor="end" transform="rotate(-45 302.17 737.09)" fill="#000">PBS</text>
<text id="xl6_1" x="347.9" y="737.6" font-size="12.0" font-weight="bold" text-anchor="end" transform="rotate(-45 347.9 737.6)" fill="#000">tVLP<tspan font-size="9" dy="-3">OVA</tspan></text>
</svg>
</body></html>
